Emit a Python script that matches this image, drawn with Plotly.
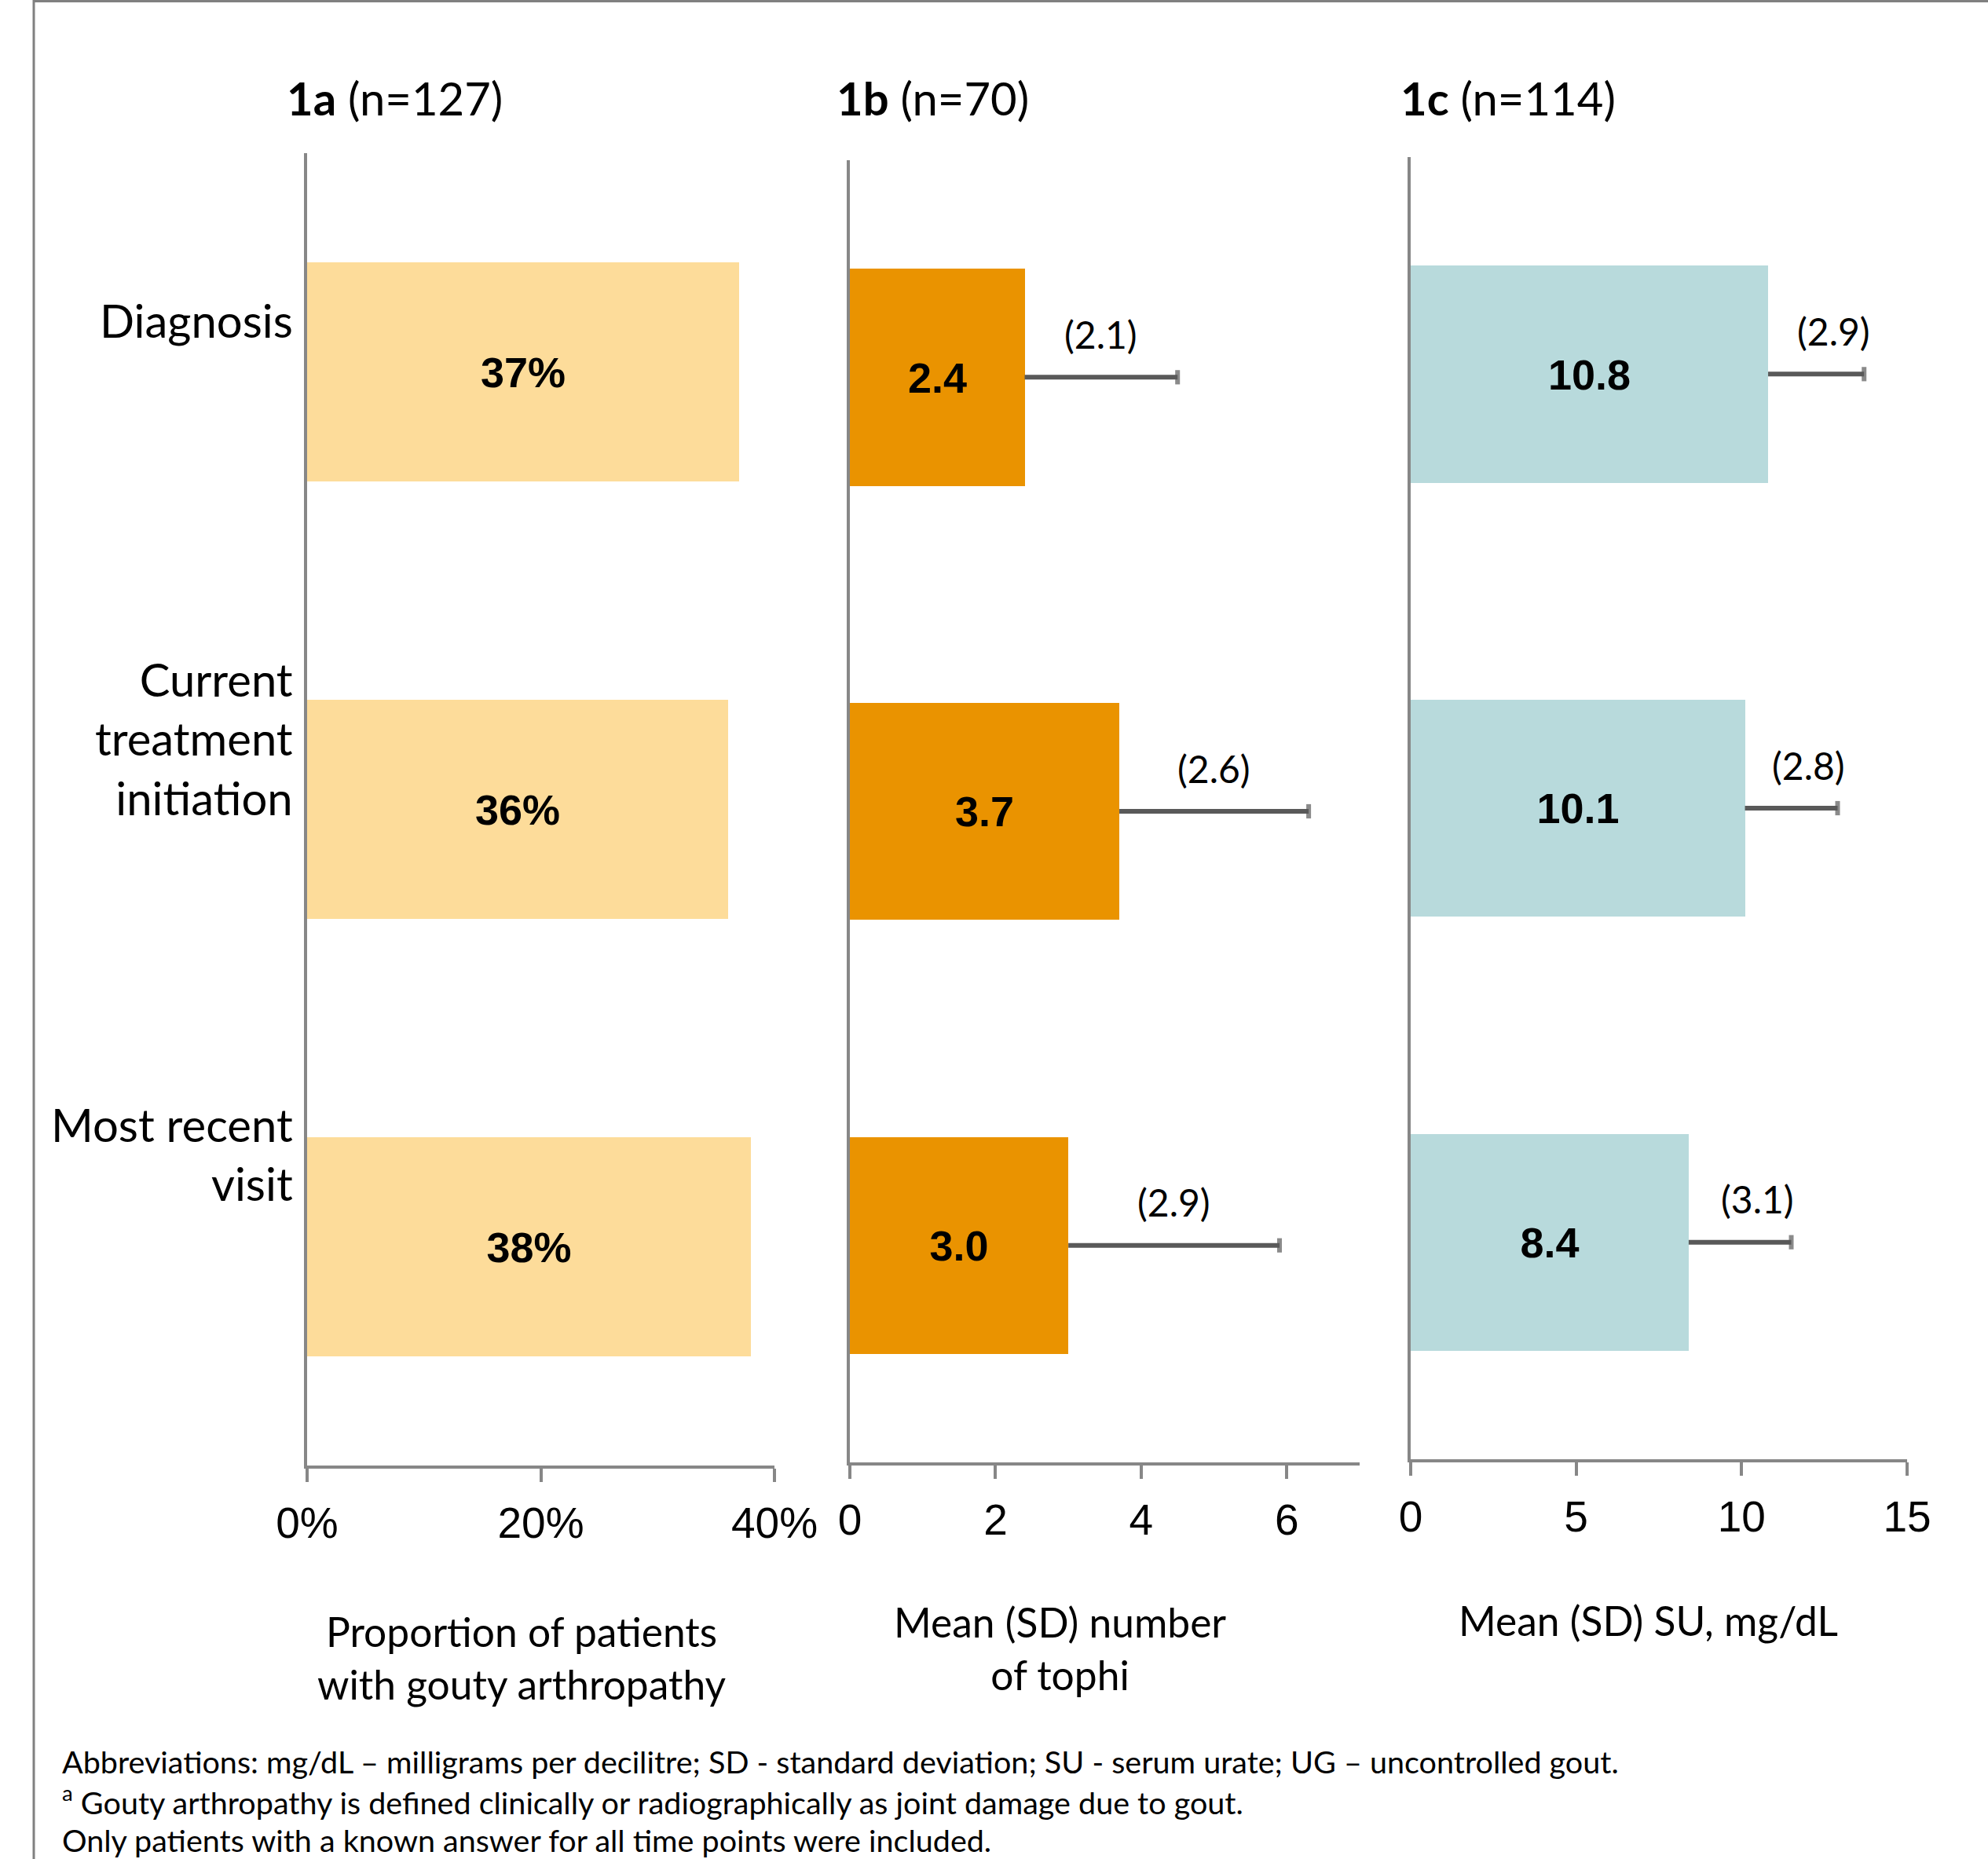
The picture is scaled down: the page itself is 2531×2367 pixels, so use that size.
import plotly.graph_objects as go

# ---- data -------------------------------------------------------------
stages = ["Diagnosis", "Current treatment initiation", "Most recent visit"]
stage_labels = ["Diagnosis", "Current<br>treatment<br>initiation", "Most recent<br>visit"]

arthropathy_share = [0.37, 0.36, 0.38]          # 1a, n=127
tophi_mean = [2.4, 3.7, 3.0]                     # 1b, n=70
tophi_sd = [2.1, 2.6, 2.9]
su_mean = [10.8, 10.1, 8.4]                      # 1c, n=114
su_sd = [2.9, 2.8, 3.1]

panel_titles = ["<b>1a</b> (n=127)", "<b>1b</b> (n=70)", "<b>1c</b> (n=114)"]
axis_titles = [
    "Proportion of patients<br>with gouty arthropathy",
    "Mean (SD) number<br>of tophi",
    "Mean (SD) SU, mg/dL",
]
footnotes = [
    "Abbreviations: mg/dL \u2013 milligrams per decilitre; SD - standard deviation; SU - serum urate; UG \u2013 uncontrolled gout.",
    "<sup>a</sup> Gouty arthropathy is defined clinically or radiographically as joint damage due to gout.",
    "Only patients with a known answer for all time points were included.",
]

# ---- styling ----------------------------------------------------------
W, H = 2531, 2367
SANS = "Lato, 'Open Sans', sans-serif"
ARIAL = "'Liberation Sans', Arial, sans-serif"
AXIS_GREY = "#878787"
ERR_GREY = "#595959"
COLORS = ["#FDDC9A", "#EA9300", "#B8DADC"]


def fx(p):
    return p / W


def fy(p):
    return 1 - p / H


fig = go.Figure()

bar_specs = [
    (arthropathy_share, [f"<b>{v:.0%}</b>" for v in arthropathy_share], "x", "y", COLORS[0]),
    (tophi_mean, [f"<b>{v:.1f}</b>" for v in tophi_mean], "x2", "y2", COLORS[1]),
    (su_mean, [f"<b>{v:.1f}</b>" for v in su_mean], "x3", "y3", COLORS[2]),
]
for vals, labels, xa, ya, col in bar_specs:
    fig.add_trace(go.Bar(
        x=vals, y=stages, orientation="h", width=0.5,
        marker=dict(color=col, line=dict(width=0)),
        text=labels, textposition="inside", insidetextanchor="middle", textangle=0,
        textfont=dict(family=ARIAL, size=54, color="black"),
        xaxis=xa, yaxis=ya, showlegend=False, hoverinfo="skip",
    ))


def sd_whiskers(means, sds, xa, ya):
    """One-sided SD whisker from the bar end out to mean + SD, capped at the tip."""
    xs, ys, sizes = [], [], []
    for cat, m, s in zip(stages, means, sds):
        xs += [m, m + s, None]
        ys += [cat, cat, None]
        sizes += [0, 13, 0]
    return go.Scatter(
        x=xs, y=ys, mode="lines+markers", xaxis=xa, yaxis=ya,
        line=dict(color=ERR_GREY, width=6),
        marker=dict(symbol="line-ns", size=sizes, color=ERR_GREY,
                    line=dict(color=ERR_GREY, width=6)),
        showlegend=False, hoverinfo="skip", connectgaps=False,
    )


fig.add_trace(sd_whiskers(tophi_mean, tophi_sd, "x2", "y2"))
fig.add_trace(sd_whiskers(su_mean, su_sd, "x3", "y3"))

# ---- axes -------------------------------------------------------------
panels = [
    # (x domain px, y domain px (top, bottom), range, tickvals, ticktext)
    ((391, 986), (195, 1866), [0, 0.4], [0, 0.2, 0.4], ["0%", "20%", "40%"]),
    ((1082, 1731), (204, 1862), [0, 7], [0, 2, 4, 6], ["0", "2", "4", "6"]),
    ((1796, 2428), (200, 1858), [0, 15], [0, 5, 10, 15], ["0", "5", "10", "15"]),
]

layout_axes = {}
for i, (xd, yd, rng, tv, tt) in enumerate(panels):
    sfx = "" if i == 0 else str(i + 1)
    layout_axes["xaxis" + sfx] = dict(
        domain=[fx(xd[0]), fx(xd[1])], range=rng, anchor="y" + sfx,
        tickvals=tv, ticktext=tt, ticks="outside", ticklen=17, tickwidth=4,
        tickcolor=AXIS_GREY, showline=True, linecolor=AXIS_GREY, linewidth=4,
        showgrid=False, zeroline=False, ticklabelstandoff=5, automargin=False,
        tickfont=dict(family=ARIAL, size=55, color="black"), fixedrange=True,
    )
    layout_axes["yaxis" + sfx] = dict(
        domain=[fy(yd[1]), fy(yd[0])], anchor="x" + sfx,
        type="category", categoryorder="array", categoryarray=stages,
        range=[2.5, -0.5], showline=True, linecolor=AXIS_GREY, linewidth=4,
        showticklabels=False, ticks="", showgrid=False, zeroline=False,
        automargin=False, fixedrange=True,
    )

# ---- annotations ------------------------------------------------------
ann = []

# stage labels to the left of 1a
stage_shift = [66, 91, 119]
for cat, lab, sh in zip(stages, stage_labels, stage_shift):
    ann.append(dict(
        text=lab, xref="paper", yref="y", x=fx(375), y=cat, yshift=sh,
        xanchor="right", yanchor="middle", align="right", showarrow=False,
        font=dict(family=SANS, size=58, color="black"),
    ))

# SD values above the whiskers
for means, sds, xa, ya, dx in [(tophi_mean, tophi_sd, "x2", "y2", 0),
                              (su_mean, su_sd, "x3", "y3", 22)]:
    for cat, m, s in zip(stages, means, sds):
        ann.append(dict(
            text=f"({s:.1f})", xref=xa, yref=ya, x=m + s / 2, y=cat,
            xshift=dx, yshift=55, xanchor="center", yanchor="middle",
            showarrow=False, font=dict(family=SANS, size=48, color="black"),
        ))

# panel titles
for t, xl in zip(panel_titles, [363, 1063, 1781]):
    ann.append(dict(
        text=t, xref="paper", yref="paper", x=fx(xl), y=fy(124),
        xanchor="left", yanchor="middle", showarrow=False,
        font=dict(family=SANS, size=58, color="black"),
    ))

# axis titles
for t, xc, yc in zip(axis_titles, [664, 1349, 2098], [2110, 2098, 2063]):
    ann.append(dict(
        text=t, xref="paper", yref="paper", x=fx(xc), y=fy(yc),
        xanchor="center", yanchor="middle", align="center", showarrow=False,
        font=dict(family=SANS, size=51.5, color="black"),
    ))

# footnotes
for t, yc in zip(footnotes, [2242, 2292, 2342]):
    ann.append(dict(
        text=t, xref="paper", yref="paper", x=fx(77), y=fy(yc),
        xanchor="left", yanchor="middle", align="left", showarrow=False,
        font=dict(family=SANS, size=39.5, color="black"),
    ))

# outer frame (left and top rules)
shapes = [
    dict(type="line", xref="paper", yref="paper", x0=fx(43), x1=fx(43), y0=0, y1=1,
         line=dict(color="#808080", width=3)),
    dict(type="line", xref="paper", yref="paper", x0=fx(43), x1=1, y0=fy(1.5), y1=fy(1.5),
         line=dict(color="#808080", width=3)),
]

fig.update_layout(
    width=W, height=H,
    margin=dict(l=0, r=0, t=0, b=0, pad=0, autoexpand=False),
    paper_bgcolor="white", plot_bgcolor="white",
    annotations=ann, shapes=shapes, bargap=0, **layout_axes,
)

fig.write_html("out.html")
